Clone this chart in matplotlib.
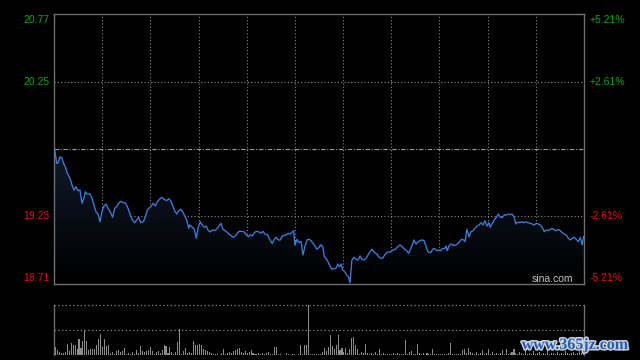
import numpy as np
import matplotlib
matplotlib.use("Agg")
import matplotlib.pyplot as plt
import matplotlib.patheffects as pe
from matplotlib.colors import LinearSegmentedColormap

# ---------------- data ----------------
prev_close = 19.74
y_max, y_min = 20.77, 18.71
left_ticks = [20.77, 20.25, 19.23, 18.71]
right_ticks = ["+5.21%", "+2.61%", "-2.61%", "-5.21%"]

# minutes since open (HK session: 150 min morning + 180 min afternoon = 330)
t = [0.4, 1.7, 2.5, 3.7, 5.0, 5.8, 7.0, 8.3, 10.0, 11.2, 12.5, 13.7, 14.9, 16.2, 17.4, 18.7, 19.5, 20.7, 22.4, 23.7,
     24.9, 26.1, 27.4, 28.6, 29.9, 31.1, 32.4, 33.6, 35.3, 36.5, 37.8, 39.0, 40.3, 41.5, 43.1, 44.4, 46.1, 47.3, 48.6, 50.2,
     51.5, 52.7, 54.0, 55.6, 56.8, 58.1, 59.3, 60.6, 61.8, 63.1, 64.3, 66.0, 67.2, 68.5, 70.2, 71.4, 72.7, 73.9, 75.1, 76.4,
     77.6, 78.9, 80.1, 81.4, 82.6, 83.9, 84.5, 86.1, 87.4, 88.6, 89.8, 91.1, 92.3, 93.6, 94.8, 96.1, 97.3, 98.6, 99.8, 101.5,
     102.7, 104.0, 105.2, 106.5, 108.1, 109.8, 111.4, 112.7, 113.9, 115.2, 116.9, 118.5, 119.7, 121.0, 122.2, 123.5, 124.7, 126.0, 127.6, 128.9,
     130.1, 131.4, 133.0, 134.3, 135.9, 137.2, 138.4, 139.6, 140.9, 142.1, 143.4, 144.6, 145.9, 147.1, 148.4, 149.2, 150.0, 151.3, 152.5, 153.8,
     155.0, 156.3, 157.5, 158.8, 160.0, 161.3, 162.5, 163.7, 165.0, 166.2, 167.5, 168.3, 169.3, 170.6, 171.8, 173.1, 174.3, 175.6, 176.8, 177.6,
     178.9, 179.7, 181.0, 182.2, 183.5, 184.3, 185.5, 186.8, 188.0, 189.3, 190.5, 191.8, 193.0, 194.3, 195.5, 196.7, 198.0, 199.2, 200.9, 202.2,
     203.4, 204.6, 205.9, 207.1, 208.4, 209.6, 210.9, 212.5, 213.7, 215.4, 216.7, 218.3, 219.6, 220.8, 222.1, 223.3, 224.1, 225.4, 226.6, 227.9,
     229.1, 230.4, 231.6, 232.9, 234.5, 235.8, 237.0, 238.3, 239.5, 240.8, 242.0, 243.2, 244.1, 244.9, 246.1, 247.4, 248.6, 249.9, 251.1, 252.6,
     253.8, 255.1, 255.9, 257.1, 258.4, 259.6, 260.9, 262.1, 263.4, 264.6, 265.9, 267.1, 268.3, 269.6, 270.8, 271.6, 272.9, 274.1, 275.4, 276.6,
     277.9, 279.1, 280.4, 281.6, 282.9, 284.1, 285.3, 286.6, 287.5, 288.7, 289.9, 291.2, 292.4, 293.7, 295.3, 296.5, 297.8, 299.0, 300.3, 301.5,
     302.8, 304.0, 305.3, 306.5, 307.8, 309.0, 310.2, 311.5, 312.7, 314.0, 315.2, 316.5, 317.7, 319.0, 320.2, 321.5, 322.7, 324.0, 325.2, 326.5,
     327.7, 328.9, 329.8]

price = [19.738, 19.63, 19.635, 19.68, 19.67, 19.635, 19.605, 19.555, 19.516, 19.465, 19.427, 19.452, 19.422, 19.427, 19.326, 19.364, 19.414, 19.397, 19.397, 19.364,
         19.313, 19.262, 19.244, 19.185, 19.262, 19.305, 19.32, 19.288, 19.254, 19.219, 19.288, 19.30, 19.326, 19.341, 19.33, 19.33, 19.288, 19.244, 19.204, 19.178,
         19.198, 19.219, 19.178, 19.185, 19.219, 19.275, 19.29, 19.305, 19.326, 19.305, 19.336, 19.361, 19.371, 19.356, 19.346, 19.361, 19.346, 19.31, 19.269, 19.244,
         19.269, 19.28, 19.262, 19.229, 19.198, 19.135, 19.16, 19.143, 19.127, 19.059, 19.143, 19.185, 19.16, 19.143, 19.152, 19.117, 19.107, 19.122, 19.117, 19.132,
         19.152, 19.173, 19.127, 19.117, 19.101, 19.084, 19.066, 19.076, 19.091, 19.112, 19.112, 19.107, 19.084, 19.071, 19.086, 19.076, 19.101, 19.112, 19.107, 19.097,
         19.112, 19.091, 19.084, 19.051, 19.02, 19.051, 19.066, 19.046, 19.046, 19.076, 19.082, 19.086, 19.097, 19.091, 19.107, 19.117, 19.005, 19.051, 19.025, 19.036,
         18.931, 19.0, 19.046, 19.051, 19.041, 19.02, 19.0, 18.975, 18.99, 19.01, 18.99, 18.918, 18.906, 18.88, 18.847, 18.822, 18.827, 18.83, 18.863, 18.842,
         18.863, 18.817, 18.804, 18.779, 18.761, 18.72, 18.893, 18.914, 18.898, 18.893, 18.924, 18.898, 18.893, 18.906, 18.931, 18.956, 18.975, 18.956, 18.939, 18.918,
         18.906, 18.906, 18.931, 18.949, 18.954, 18.954, 18.969, 18.975, 18.99, 19.008, 18.995, 18.975, 18.964, 18.944, 18.982, 19.015, 19.046, 19.015, 19.03, 19.041,
         19.046, 19.041, 19.0, 18.954, 18.949, 18.975, 18.982, 18.964, 18.969, 18.964, 18.982, 18.98, 19.0, 18.964, 19.005, 19.015, 19.005, 19.005, 19.015, 19.033,
         19.051, 19.046, 19.033, 19.127, 19.071, 19.109, 19.117, 19.135, 19.152, 19.16, 19.178, 19.16, 19.193, 19.152, 19.178, 19.143, 19.173, 19.198, 19.219, 19.244,
         19.219, 19.219, 19.236, 19.236, 19.244, 19.239, 19.244, 19.219, 19.168, 19.183, 19.178, 19.185, 19.178, 19.183, 19.178, 19.173, 19.168, 19.16, 19.173, 19.168,
         19.16, 19.143, 19.109, 19.122, 19.117, 19.127, 19.135, 19.122, 19.117, 19.127, 19.117, 19.101, 19.091, 19.084, 19.059, 19.046, 19.059, 19.066, 19.051, 19.033,
         19.066, 19.008, 19.071]

volume = [17, 10, 7, 5, 5, 7, 23, 8, 25, 20, 20, 13, 33, 15, 28, 51, 28, 10, 12, 12,
          12, 20, 33, 43, 17, 32, 19, 20, 5, 7, 3, 8, 10, 7, 8, 15, 3, 5, 3, 7,
          3, 10, 5, 19, 8, 7, 8, 10, 17, 8, 3, 7, 8, 5, 10, 20, 19, 5, 17, 7,
          3, 7, 27, 52, 3, 8, 15, 5, 7, 5, 28, 20, 21, 23, 20, 13, 10, 8, 7, 5,
          3, 3, 3, 1, 5, 12, 3, 5, 7, 5, 8, 10, 12, 15, 7, 5, 8, 5, 7, 10,
          5, 3, 3, 5, 3, 5, 3, 4, 7, 3, 3, 16, 16, 3, 3, 1, 1, 5, 3, 1,
          3, 3, 1, 3, 20, 3, 20, 20, 130, 3, 3, 3, 3, 3, 3, 7,
          15, 8, 17, 41, 19, 13, 20, 40, 10, 15, 7, 15, 5, 13, 35, 37, 20, 12, 3, 7,
          5, 23, 5, 3, 5, 3, 7, 3, 12, 3, 5, 3, 3, 3, 3, 4, 3, 5, 3, 3,
          3, 31, 3, 7, 8, 3, 3, 23, 5, 3, 5, 1, 5, 3, 3, 13, 3, 3, 3, 3,
          3, 3, 3, 5, 25, 3, 3, 3, 3, 3, 10, 13, 5, 15, 7, 5, 3, 7, 3, 5,
          10, 3, 5, 12, 3, 7, 3, 4, 3, 5, 10, 3, 13, 3, 5, 7, 12,
          5, 3, 7, 4, 3, 10, 3, 5, 3, 8, 3, 4, 6, 3, 5, 3, 12, 3, 4, 5,
          3, 7, 3, 4, 3, 9, 5, 3, 4, 6, 3, 5, 8, 4, 6]
vol_max = 100

# ---------------- style ----------------
BG = "#000000"
BORDER = "#6e6e6e"
GRID = "#8a8a8a"
GREEN = "#14a014"
RED = "#e01010"
LINE = "#3f7bd8"
FONT = "Liberation Sans"

fig = plt.figure(figsize=(6.4, 3.6), dpi=100, facecolor=BG)
ax = fig.add_axes([54 / 640, 1 - 284 / 360, 530 / 640, 270 / 360])
axv = fig.add_axes([54 / 640, 5 / 360, 530 / 640, 50 / 360])

for a in (ax, axv):
    a.set_facecolor(BG)
    a.set_xlim(0, 330)
    a.set_xticks([])
    a.set_yticks([])

# ---------------- main panel ----------------
ax.set_ylim(y_min, y_max)
for s in ax.spines.values():
    s.set_color(BORDER)
    s.set_linewidth(1.0)

dot = (0, (1, 2))
for m in range(30, 330, 30):
    ax.axvline(m, color=GRID, lw=0.8, ls=dot, zorder=1)
for yv in (left_ticks[1], left_ticks[2]):
    ax.axhline(yv, color=GRID, lw=0.8, ls=dot, zorder=1)
ax.axhline(prev_close, color="#9a9a9a", lw=0.8, ls=(0, (4, 1.5, 1, 1.5)), zorder=1)

# gradient fill under the price line
tt = np.array(t)
pp = np.array(price)
poly = ax.fill_between(tt, pp, y_min, color="none", lw=0)
grad = np.linspace(0, 1, 256).reshape(-1, 1)
cmap = LinearSegmentedColormap.from_list("g", ["#000000", "#0f1a2b"])
img = ax.imshow(grad, aspect="auto", cmap=cmap, origin="lower",
                extent=[0, 330, y_min, prev_close], zorder=2)
img.set_clip_path(poly.get_paths()[0], transform=ax.transData)
ax.set_xlim(0, 330)
ax.set_ylim(y_min, y_max)

ax.plot(tt, pp, color=LINE, lw=0.95, zorder=3)

# axis labels
offs = [-4.3, 0, 0, 4.3]
for v, lab, off in zip(left_ticks, right_ticks, offs):
    col = GREEN if v > prev_close else RED
    ax.annotate(f"{v:.2f}", xy=(0, v), xycoords=("axes fraction", "data"),
                xytext=(-3, off), textcoords="offset points",
                ha="right", va="center", color=col, fontsize=7.5, family=FONT)
    ax.annotate(lab, xy=(1, v), xycoords=("axes fraction", "data"),
                xytext=(4.3, off), textcoords="offset points",
                ha="left", va="center", color=col, fontsize=7.5, family=FONT)

ax.text(573 / 640, 1 - 282 / 360, "sina.com", transform=fig.transFigure,
        ha="right", va="baseline", color="#c4c4c4", fontsize=7.5, family=FONT)

# ---------------- volume panel ----------------
axv.set_ylim(0, vol_max)
for k in ("top", "bottom"):
    axv.spines[k].set_visible(False)
for k in ("left", "right"):
    axv.spines[k].set_color(BORDER)
    axv.spines[k].set_linewidth(1.0)
axv.axhline(vol_max, color=GRID, lw=0.9, ls=dot, clip_on=False)
axv.axhline(vol_max / 2, color=GRID, lw=0.9, ls=dot)
vt = np.linspace(0.8, 329.5, len(volume))
axv.bar(vt, volume, width=0.65, color="#8c8c8c", linewidth=0)

# watermark
fig.text(575 / 640, 1 - 345 / 360, "www.365jz.com", ha="center", va="center",
         color="#2c5ca8", fontsize=11.5, fontweight="bold", family="Liberation Serif",
         path_effects=[pe.withStroke(linewidth=2.2, foreground="#c9d3e0")])

fig.savefig("out.png", dpi=100, facecolor=BG)
